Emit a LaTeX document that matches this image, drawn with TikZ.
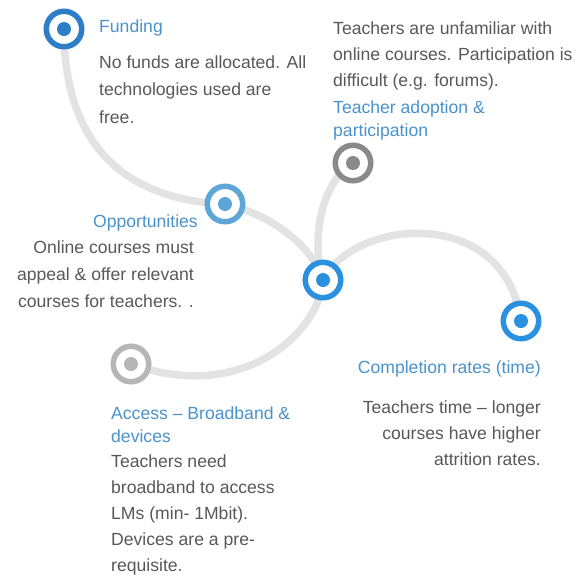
\documentclass[tikz,border=0pt]{standalone}
\usepackage{fontspec}
\setmainfont{Liberation Sans}
\usepackage{xcolor}
\usetikzlibrary{backgrounds}

\definecolor{deepblue}{RGB}{45,126,198}
\definecolor{paleblue}{RGB}{94,166,216}
\definecolor{brightblue}{RGB}{42,144,224}
\definecolor{stonegray}{RGB}{138,138,138}
\definecolor{palegray}{RGB}{182,182,182}
\definecolor{trackgray}{RGB}{227,227,227}
\definecolor{headblue}{RGB}{74,146,204}
\definecolor{bodygray}{RGB}{88,88,88}

\begin{document}
\begin{tikzpicture}[x=1pt,y=1pt,yscale=-1,
  spot/.style={circle,draw=#1,fill=white,line width=5.5pt,minimum size=35.5pt,inner sep=0pt,
    path picture={\fill[#1] (path picture bounding box.center) circle (7pt);}},
  track/.style={draw=trackgray,line width=7.5pt},
  head/.style={text=headblue,font=\fontsize{17.6}{23}\selectfont,inner sep=0pt},
  body/.style={text=bodygray,font=\fontsize{17.6}{#1}\selectfont,inner sep=0pt},
  body/.default=26]
\useasboundingbox (0,0) rectangle (578,582);

%Shape: Circle spots
\node (fund) [spot=deepblue] at (64,29) {};
\node (opp) [spot=paleblue] at (225,204) {};
\node (adopt) [spot=stonegray] at (353,163) {};
\node (hub) [spot=brightblue] at (323,280) {};
\node (compl) [spot=brightblue] at (521,321) {};
\node (access) [spot=palegray] at (131,364) {};

%Curves under the spots
\begin{scope}[on background layer]
\draw [track] (fund.center) .. controls (64,150) and (130,200) .. (opp.center) .. controls (270,214) and (312,245) .. (hub.center) .. controls (320,330) and (245,405) .. (access.center);
\draw [track] (adopt.center) .. controls (318,185) and (312,245) .. (hub.center);
\draw [track] (hub.center) .. controls (355,218) and (505,205) .. (compl.center);
\end{scope}

% Text Node (base = last line)
\node (fundhead) [head,anchor=base west] at (99,32) {Funding};
% Text Node
\node (fundtext) [body=27.5,anchor=base west,align=left] at (99,123) {No funds are allocated. All\\technologies used are\\free.};
% Text Node
\node (adopttext) [body,anchor=base west,align=left] at (333,86) {Teachers are unfamiliar with\\online courses. Participation is\\difficult (e.g. forums).};
% Text Node
\node (adopthead) [head,anchor=base west,align=left] at (333,136) {Teacher adoption \&\\participation};
% Text Node
\node (opphead) [head,anchor=base east] at (198,227) {Opportunities};
% Text Node
\node (opptext) [body=27,anchor=base east,align=right] at (194,307) {Online courses must\\appeal \& offer relevant\\courses for teachers. .};
% Text Node
\node (complhead) [head,anchor=base east] at (541,373) {Completion rates (time)};
% Text Node
\node (compltext) [body,anchor=base east,align=right] at (541,465) {Teachers time – longer\\courses have higher\\attrition rates.};
% Text Node
\node (accesshead) [head,anchor=base west,align=left] at (111,442) {Access – Broadband \&\\devices};
% Text Node
\node (accesstext) [body=25.8,anchor=base west,align=left] at (111,571) {Teachers need\\broadband to access\\LMs (min- 1Mbit).\\Devices are a pre-\\requisite.};
\end{tikzpicture}
\end{document}
